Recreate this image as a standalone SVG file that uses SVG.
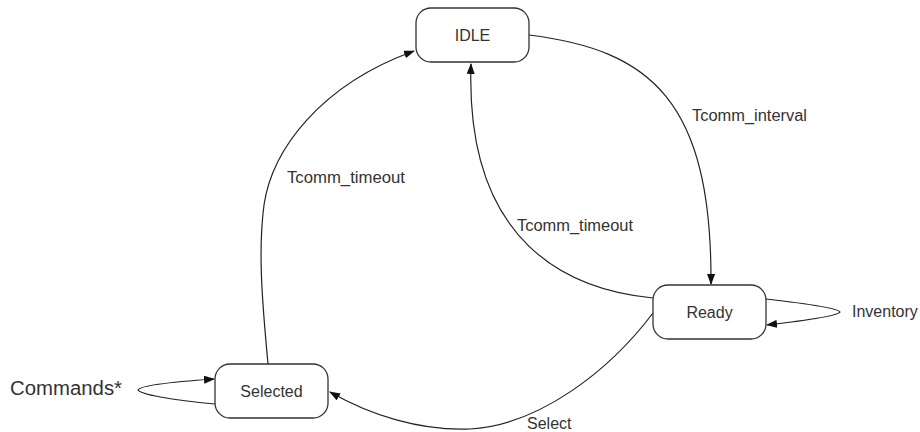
<svg xmlns="http://www.w3.org/2000/svg" width="920" height="432" viewBox="0 0 920 432">
<style>
.node rect{fill:#fff;stroke:#333;stroke-width:1.3}
.node text{font-family:"Liberation Sans",Arial,sans-serif;font-size:16px;fill:#333;text-anchor:middle}
.lbl{font-family:"Liberation Sans",Arial,sans-serif;font-size:16px;fill:#333}
.edge{fill:none;stroke:#222;stroke-width:1.2;marker-end:url(#arr)}
</style>
<defs>
<marker id="arr" markerWidth="11" markerHeight="8" refX="10" refY="4" orient="auto" markerUnits="userSpaceOnUse">
<path d="M0,0 L11,4 L0,8 Z" fill="#111"/>
</marker>
</defs>
<rect width="920" height="432" fill="#fff"/>
<g id="connectors">
<path class="edge" d="M268,364 C262,300 258,250 264,205 C272,150 320,85 414,51"/>
<path class="edge" d="M529,35 C650,50 712,100 711,284"/>
<path class="edge" d="M653,298 C570,290 465,245 471,64"/>
<path class="edge" d="M653,313 C610,370 540,425 470,429 C420,431 370,415 330,392"/>
<path class="edge" d="M766,299 C810,304 838,308 840,312 C838,316 810,320 767,325"/>
<path class="edge" d="M215,404 C170,400 140,394 138,390 C140,386 170,382 214,379"/>
</g>
<g id="labels">
<text class="lbl" x="287" y="183" textLength="118" lengthAdjust="spacingAndGlyphs">Tcomm_timeout</text>
<text class="lbl" x="517" y="231" textLength="116" lengthAdjust="spacingAndGlyphs">Tcomm_timeout</text>
<text class="lbl" x="692" y="121" textLength="115" lengthAdjust="spacingAndGlyphs">Tcomm_interval</text>
<text class="lbl" x="527" y="429">Select</text>
<text class="lbl" x="852" y="317">Inventory</text>
<text class="lbl" x="10" y="395" style="font-size:20px" textLength="112" lengthAdjust="spacingAndGlyphs">Commands*</text>
</g>
<g id="idle" class="node">
<rect x="416" y="8" width="113" height="54" rx="15"/>
<text x="472.5" y="41">IDLE</text>
</g>
<g id="ready" class="node">
<rect x="653" y="285" width="113" height="54" rx="15"/>
<text x="709.5" y="318">Ready</text>
</g>
<g id="selected" class="node">
<rect x="215" y="364" width="113" height="54" rx="15"/>
<text x="271.5" y="397">Selected</text>
</g>
</svg>
